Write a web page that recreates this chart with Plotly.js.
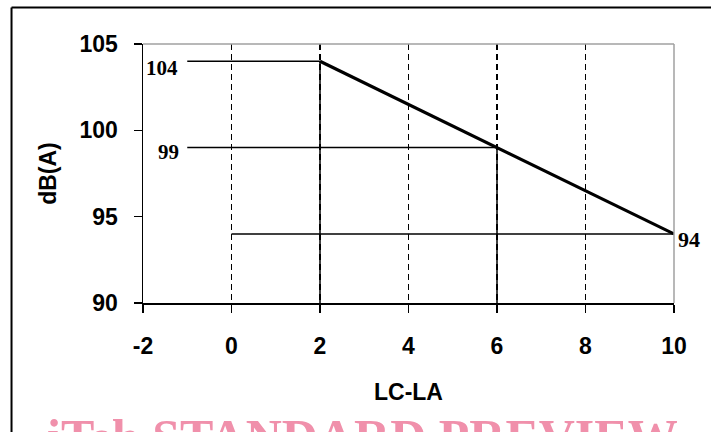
<!DOCTYPE html>
<html>
<head>
<meta charset="utf-8">
<script src="https://cdn.plot.ly/plotly-3.0.1.min.js"></script>
<style>
html,body{margin:0;padding:0;background:#fff;}
#chart{width:711px;height:432px;}
</style>
</head>
<body>
<div id="chart"></div>
<script>
// ---- data ----
const slopeX = [2, 10];
const slopeY = [104, 94];
const levelY = [104, 99, 94];
const levelStartX = [-1, -1, 0];
const levelEndX = [2, 6, 10];
const dropX = [2, 6];
const dropTopY = [104, 99];
const levelLabels = ['104', '99', '94'];
const xTicks = [-2, 0, 2, 4, 6, 8, 10];
const yTicks = [90, 95, 100, 105];
const xTitle = 'LC-LA';
const yTitle = 'dB(A)';
const watermark = 'iTeh STANDARD PREVIEW';

const yMin = yTicks[0];
const traces = [];
// horizontal reference levels
levelY.forEach((y, i) => {
  traces.push({x: [levelStartX[i], levelEndX[i]], y: [y, y], mode: 'lines',
    line: {color: '#000', width: 1.5}, hoverinfo: 'skip', showlegend: false});
});
// vertical drops
dropX.forEach((x, i) => {
  traces.push({x: [x, x], y: [dropTopY[i], yMin], mode: 'lines',
    line: {color: '#000', width: 1.5}, hoverinfo: 'skip', showlegend: false});
});
// main sloped curve
traces.push({x: slopeX, y: slopeY, mode: 'lines', line: {color: '#000', width: 3.2},
  showlegend: false});

const serif = {family: 'Liberation Serif, Times New Roman, serif', size: 21, color: '#000', weight: 'bold'};
const annotations = [
  {x: levelStartX[0], y: levelY[0], text: levelLabels[0], xref: 'x', yref: 'y', showarrow: false,
   xanchor: 'right', yanchor: 'middle', xshift: -7, yshift: -7, font: serif},
  {x: levelStartX[1], y: levelY[1], text: levelLabels[1], xref: 'x', yref: 'y', showarrow: false,
   xanchor: 'right', yanchor: 'middle', xshift: -6, yshift: -4, font: serif},
  {x: levelEndX[2], y: levelY[2], text: levelLabels[2], xref: 'x', yref: 'y', showarrow: false,
   xanchor: 'left', yanchor: 'middle', xshift: 2, yshift: -6, font: {...serif, size: 22}},
  {x: 0.413, y: -0.40, xref: 'paper', yref: 'paper', text: watermark, showarrow: false,
   xanchor: 'center', yanchor: 'top',
   font: {family: 'Liberation Serif, Times New Roman, serif', size: 50, color: '#f090ab', weight: 'bold'}}
];

const sans = {family: 'Liberation Sans, Arial, sans-serif', size: 23, color: '#000', weight: 'bold'};

const layout = {
  width: 711, height: 432,
  margin: {l: 143, r: 37, t: 44, b: 129},
  paper_bgcolor: '#fff', plot_bgcolor: '#fff',
  showlegend: false,
  xaxis: {
    range: [xTicks[0], xTicks[xTicks.length - 1]],
    tickvals: xTicks, ticktext: xTicks.map(String),
    showline: true, linecolor: '#000', linewidth: 1.5,
    ticks: 'outside', ticklen: 8, tickwidth: 1.5, tickcolor: '#000',
    showgrid: true, gridcolor: '#000', gridwidth: 1.5, griddash: '6px,4px',
    zeroline: false, tickfont: sans, ticklabelstandoff: 14,
    title: {text: xTitle, font: sans, standoff: 26},
    automargin: false, fixedrange: true
  },
  yaxis: {
    range: [yTicks[0], yTicks[yTicks.length - 1]],
    tickvals: yTicks, ticktext: yTicks.map(String),
    showline: true, linecolor: '#000', linewidth: 1.5,
    ticks: 'outside', ticklen: 8, tickwidth: 1.5, tickcolor: '#000',
    showgrid: false, zeroline: false, tickfont: sans, ticklabelstandoff: 11,
    title: {text: yTitle, font: sans, standoff: 16},
    automargin: false, fixedrange: true
  },
  shapes: [
    // gray top and right plot border
    {type: 'line', xref: 'paper', yref: 'paper', x0: 0, x1: 1, y0: 1, y1: 1,
     line: {color: '#a0a0a0', width: 1.5}, layer: 'above'},
    {type: 'line', xref: 'paper', yref: 'paper', x0: 1, x1: 1, y0: 0, y1: 1,
     line: {color: '#a0a0a0', width: 1.5}, layer: 'above'},
    // outer frame (left and top visible)
    {type: 'line', xref: 'paper', yref: 'paper', x0: -0.2476, x1: -0.2476, y0: -0.6, y1: 1.141,
     line: {color: '#000', width: 2}},
    {type: 'line', xref: 'paper', yref: 'paper', x0: -0.2476, x1: 1.2, y0: 1.141, y1: 1.141,
     line: {color: '#000', width: 2}}
  ],
  annotations: annotations
};

Plotly.newPlot('chart', traces, layout, {displayModeBar: false, staticPlot: true});
</script>
</body>
</html>
